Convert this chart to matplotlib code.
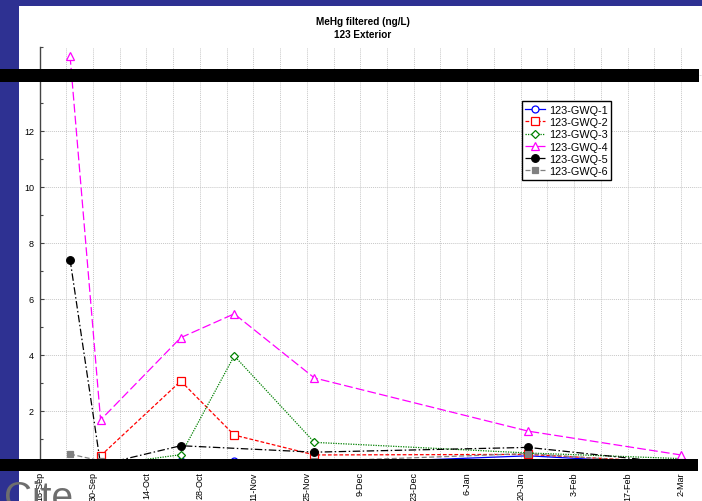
import matplotlib
matplotlib.use('Agg')
import matplotlib.pyplot as plt
import matplotlib.dates as mdates
from matplotlib.patches import Rectangle
from matplotlib.ticker import MultipleLocator, FixedLocator
import numpy as np

plt.rcParams['font.family'] = ['Liberation Sans', 'DejaVu Sans']

# ---- data ----
dates = ['2003-09-24', '2003-10-02', '2003-10-23', '2003-11-06',
         '2003-11-27', '2004-01-22', '2004-03-02']
nan = np.nan
gwq1 = [nan, 0.05, 0.20, 0.20, 0.10, 0.40, 0.10]
gwq2 = [nan, 0.40, 3.07, 1.14, 0.43, 0.45, 0.15]
gwq3 = [nan, 0.05, 0.44, 3.97, 0.88, 0.50, 0.30]
gwq4 = [14.68, 1.68, 4.62, 5.47, 3.18, 1.28, 0.43]
gwq5 = [7.41, 0.08, 0.76, nan, 0.53, 0.70, 0.12]
gwq6 = [0.46, 0.22, 0.15, nan, 0.20, 0.48, 0.10]
labels = ['123-GWQ-1', '123-GWQ-2', '123-GWQ-3', '123-GWQ-4', '123-GWQ-5', '123-GWQ-6']
title1 = 'MeHg filtered (ng/L)'
title2 = '123 Exterior'

W, H = 702, 502
fig = plt.figure(figsize=(W / 100, H / 100), dpi=100)
fig.patch.set_facecolor('white')

# slide background strips
blue = '#2E3192'
fig.add_artist(Rectangle((0, 0), 19 / W, 1, transform=fig.transFigure,
                         facecolor=blue, edgecolor='none', zorder=-5))
fig.add_artist(Rectangle((0, 1 - 7 / H), 1, 7 / H, transform=fig.transFigure,
                         facecolor=blue, edgecolor='none', zorder=-5))

left, top, bottom = 39.5, 48, 468
ax = fig.add_axes([left / W, 1 - bottom / H, 1 - left / W, (bottom - top) / H])
ax.set_facecolor('white')

x = mdates.datestr2num(dates)
styles = [
    dict(color='#0000FF', ls='-', marker='o', mfc='white', ms=5),
    dict(color='#FF0000', ls=(0, (3, 1.6)), marker='s', mfc='white', ms=5.5),
    dict(color='#008000', ls=(0, (1, 1)), marker='D', mfc='white', ms=3.6),
    dict(color='#FF00FF', ls=(0, (7, 2.6)), marker='^', mfc='white', ms=5.5),
    dict(color='black', ls=(0, (6, 2, 1.2, 2)), marker='o', mfc='black', ms=5.5),
    dict(color='#808080', ls=(0, (4, 2)), marker='s', mfc='#808080', ms=5),
]
for ser, lab, st in zip([gwq1, gwq2, gwq3, gwq4, gwq5, gwq6], labels, styles):
    y = np.array(ser, dtype=float)
    m = ~np.isnan(y)
    ax.plot(x[m], y[m], label=lab, lw=0.9, mew=0.9, **st)

start = mdates.datestr2num('2003-09-16')
ax.set_xlim(start, start + 173.5)
ax.set_ylim(0, 15)

majors = [start + 14 * i for i in range(13)]
minors = [start + 7 * i for i in range(26)]
ax.xaxis.set_major_locator(FixedLocator(majors))
ax.xaxis.set_minor_locator(FixedLocator(minors))
ax.xaxis.set_major_formatter(mdates.DateFormatter('%-d-%b'))
ax.yaxis.set_major_locator(MultipleLocator(2))
ax.yaxis.set_minor_locator(MultipleLocator(1))

ax.tick_params(axis='x', which='both', direction='in', length=0, pad=3,
               labelsize=6.5, labelrotation=90)
ax.tick_params(axis='y', which='major', direction='in', length=3, width=0.8,
               pad=4, labelsize=6.5, color='#444444')
ax.tick_params(axis='y', which='minor', direction='in', length=2, width=0.8,
               color='#444444')

ax.grid(True, axis='x', which='both', color='#c8c8c8', ls=(0, (1, 1)), lw=0.7)
ax.grid(True, axis='y', which='major', color='#c8c8c8', ls=(0, (1, 1)), lw=0.7)
ax.set_axisbelow(True)
for s in ['top', 'right', 'bottom']:
    ax.spines[s].set_visible(False)
ax.spines['left'].set_color('#444444')
ax.spines['left'].set_linewidth(1.0)

leg = ax.legend(loc='upper left',
                bbox_to_anchor=((521.7 - left) / (W - left), (bottom - 102.3) / (bottom - top)),
                borderaxespad=0, fontsize=7.8, handlelength=1.8, handletextpad=0.35,
                labelspacing=0.2, borderpad=0.35, fancybox=False, framealpha=1)
leg.get_frame().set_edgecolor('black')
leg.get_frame().set_linewidth(1.0)

fig.text(362.5 / W, 1 - 25 / H, title1, ha='center', va='baseline',
         fontsize=7.2, fontweight='bold')
fig.text(362.5 / W, 1 - 37.7 / H, title2, ha='center', va='baseline',
         fontsize=7.2, fontweight='bold')

# black overlay bars
fig.add_artist(Rectangle((0, 1 - 83 / H), 699 / W, 13 / H, transform=fig.transFigure,
                         facecolor='black', edgecolor='none', zorder=10))
fig.add_artist(Rectangle((0, 1 - 471.7 / H), 698 / W, 12.2 / H, transform=fig.transFigure,
                         facecolor='black', edgecolor='none', zorder=10))

fig.text(4 / W, -7 / H, 'Cite', fontsize=28, color='#6e6e6e', va='baseline',
         ha='left', zorder=11)

fig.savefig('out.png', dpi=100)
